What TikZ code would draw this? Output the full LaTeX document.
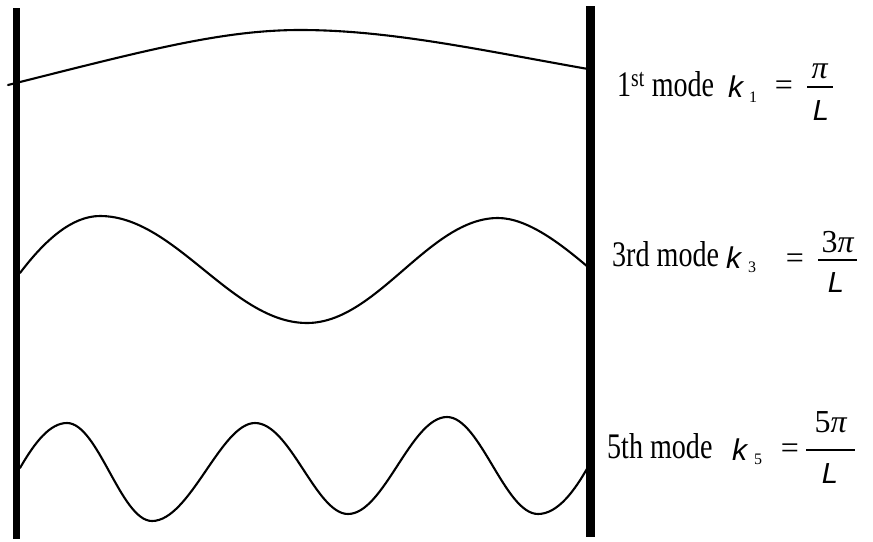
\documentclass[tikz,border=0pt]{standalone}
\usepackage{fontspec}
\setmainfont{Liberation Serif}
\newfontfamily\arialf{Liberation Sans}
\usepackage{graphicx}
\newcommand{\sqz}[1]{\scalebox{0.78}[1]{#1}}
\begin{document}
\begin{tikzpicture}[x=1pt,y=-1pt,
  wave/.style={line width=2.1pt, line join=round, line cap=round},
  wall/.style={fill=black, draw=none},
  lbl/.style={anchor=base west, inner sep=0pt, font=\fontsize{36}{40}\selectfont},
  kk/.style={anchor=base west, inner sep=0pt, font=\fontsize{30}{32}\arialf\itshape},
  sb/.style={anchor=base west, inner sep=0pt, font=\fontsize{16}{18}\selectfont},
  eq/.style={anchor=base, inner sep=0pt, font=\fontsize{32}{34}\selectfont},
  num/.style={anchor=base, inner sep=0pt, font=\fontsize{32}{34}\selectfont},
  den/.style={anchor=base, inner sep=0pt, font=\fontsize{29}{31}\arialf\itshape},
  fl/.style={line width=1.1pt}]
\useasboundingbox (0,0) rectangle (873,541);
% waves
\draw[wave] (8,85) .. controls (140,52) and (220,30) .. (300,30)
  .. controls (390,30) and (480,50) .. (588,69);
\draw[wave] (20,273) .. controls (45,240) and (72,216) .. (100,216)
  .. controls (175,216) and (232,323) .. (307,323)
  .. controls (377,323) and (429,218) .. (498,218)
  .. controls (528,218) and (562,245) .. (588,267);
\draw[wave] (20,468) .. controls (35,442) and (50,423) .. (67,423)
  .. controls (98,423) and (121,521) .. (152,521)
  .. controls (190,521) and (221,423) .. (255,423)
  .. controls (290,423) and (316,514) .. (348,514)
  .. controls (384,514) and (411,417) .. (447,417)
  .. controls (480,417) and (505,514) .. (538,514)
  .. controls (558,514) and (575,490) .. (588,467);
% walls
\fill[wall] (13,8) rectangle (20,539);
\fill[wall] (586,6) rectangle (595,537);
% label 1
\node[lbl] (t1) at (617,96) {\sqz{1\textsuperscript{st} mode}};
\node[kk] (k1) at (728,97) {k};
\node[sb] (s1) at (749,102) {1};
\node[eq] (e1) at (784,95) {=};
\draw[fl] (807,87) -- (833,87);
\node[num] (n1) at (820,78) {\textit{π}};
\node[den] (d1) at (821,120) {L};
% label 2
\node[lbl] (t2) at (612,266) {\sqz{3rd mode}};
\node[kk] (k2) at (726,268) {k};
\node[sb] (s2) at (748,272) {3};
\node[eq] (e2) at (795,268) {=};
\draw[fl] (818,260) -- (857,260);
\node[num] (n2) at (838,252) {3\textit{π}};
\node[den] (d2) at (836,292) {L};
% label 3
\node[lbl] (t3) at (607,458) {\sqz{5th mode}};
\node[kk] (k3) at (732,460) {k};
\node[sb] (s3) at (754,464) {5};
\node[eq] (e3) at (790,458) {=};
\draw[fl] (806,450) -- (855,450);
\node[num] (n3) at (831,432) {5\textit{π}};
\node[den] (d3) at (830,483) {L};
\end{tikzpicture}
\end{document}
